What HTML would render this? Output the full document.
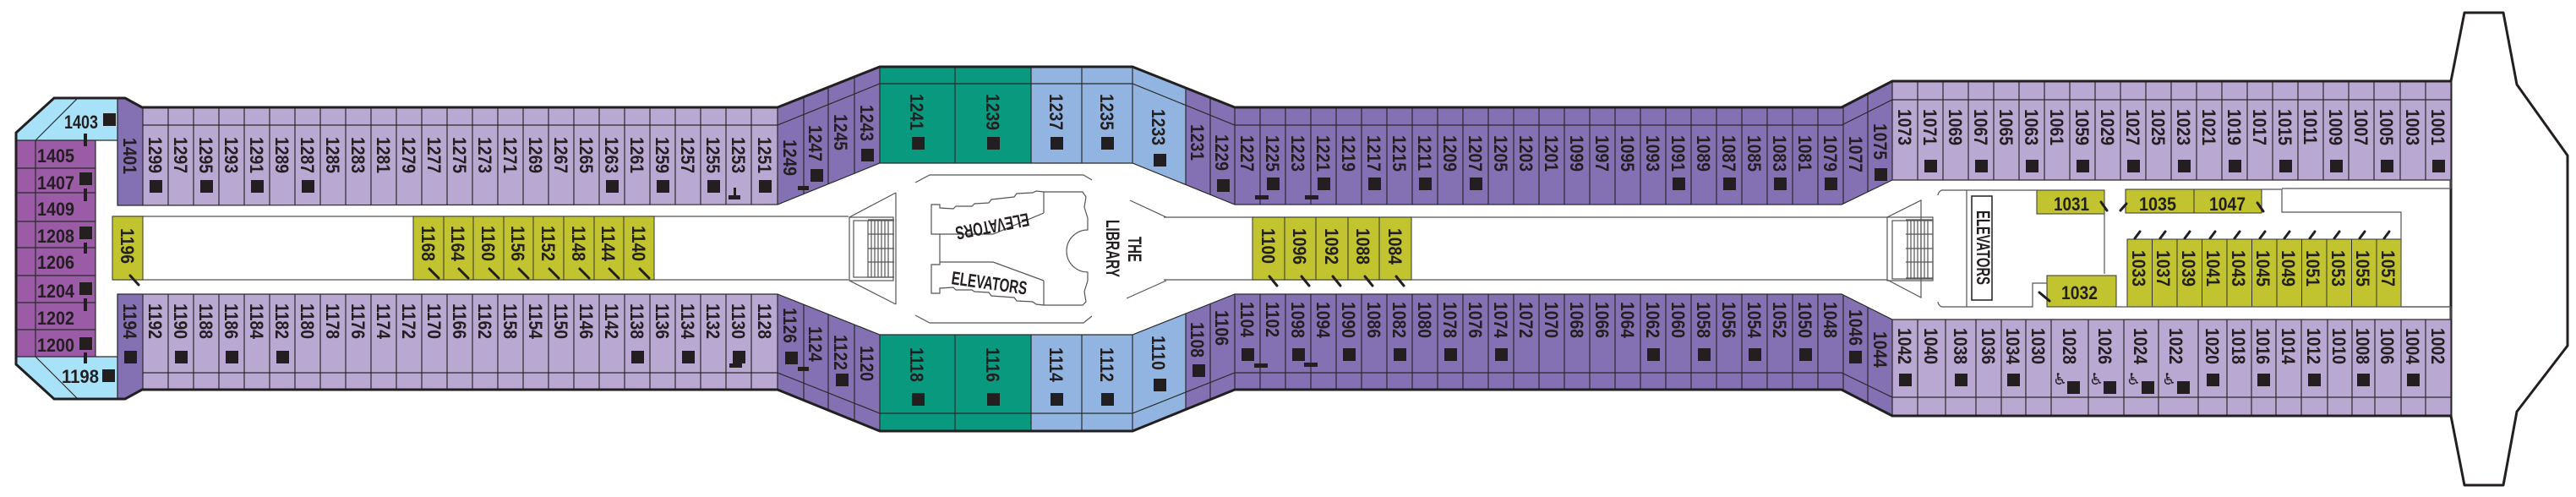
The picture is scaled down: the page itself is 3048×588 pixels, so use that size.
<!DOCTYPE html>
<html><head><meta charset="utf-8"><style>
html,body{margin:0;padding:0;background:#fff}
svg{display:block}
.v,.h{font-family:"Liberation Sans",sans-serif;font-weight:bold;font-size:22px;fill:#231f20}
.s{fill:#231f20}
.d{stroke:#2a2a2a;stroke-width:1.2;fill:none}
.g{stroke:#555;stroke-width:1.2;fill:none}
.k{stroke:#231f20;stroke-width:3;fill:none;stroke-linecap:round}
.sl{stroke:#231f20;stroke-width:3;stroke-linecap:round}
</style></head><body>
<svg width="3048" height="588" viewBox="0 0 3048 588" xmlns="http://www.w3.org/2000/svg">
<defs>
<clipPath id="cu"><polygon points="139,116 148,116 168,127 920,127 1041,79 1340,79 1461,127 2179,127 2239,96 2900,96 2900,213 2239,213 2179,242 1461,242 1340,193 1041,193 920,242 139,243"/></clipPath>
<clipPath id="cl"><polygon points="139,348 920,348 1041,396 1340,396 1461,348 2179,348 2239,378 2900,378 2900,492 2239,492 2179,461 1461,461 1340,510 1041,510 920,461 168,461 148,472 139,472"/></clipPath>
</defs>

<!-- bow -->
<polygon points="2900,96 2916,15 2962,15 2978,100 3038,184 3038,409 2978,487 2962,574 2916,574 2900,492" fill="#fff" stroke="#231f20" stroke-width="3" stroke-linejoin="round"/>

<!-- aft block -->
<polygon points="19,157 64,116 139,116 139,166 19,166" fill="#a8e2f8"/>
<polygon points="19,422 139,422 139,472 64,472 19,431" fill="#a8e2f8"/>
<rect x="19" y="166" width="94" height="256" fill="#9c5ba6"/>
<path class="d" d="M42,166 L92,116 M42,422 L92,472 M19,166 H139 M19,422 H139 M42,166 V422 M113,166 V422 M19,199 H113 M19,228 H113 M19,262 H113 M19,293 H113 M19,326 H113 M19,358 H113 M19,390 H113"/>

<!-- upper band -->
<g clip-path="url(#cu)">
<rect x="130" y="60" width="2800" height="200" fill="#b9a8d1"/>
<rect x="139" y="60" width="30" height="200" fill="#8471b3"/>
<rect x="920" y="60" width="121" height="200" fill="#8471b3"/>
<rect x="1041" y="60" width="179" height="200" fill="#08997f"/>
<rect x="1220" y="60" width="183" height="200" fill="#92b4e0"/>
<rect x="1403" y="60" width="836" height="200" fill="#8471b3"/>
<path class="d" d="M139,60V260M169,60V260M199,60V260M229,60V260M259,60V260M289,60V260M319,60V260M349,60V260M379,60V260M409,60V260M439,60V260M469,60V260M499,60V260M529,60V260M559,60V260M589,60V260M619,60V260M649,60V260M679,60V260M709,60V260M739,60V260M769,60V260M799,60V260M829,60V260M859,60V260M889,60V260M920,60V260M951,60V260M980,60V260M1011,60V260M1041,60V260M1130,60V260M1220,60V260M1280,60V260M1340,60V260M1403,60V260M1432,60V260M1461,60V260M1491,60V260M1521,60V260M1551,60V260M1581,60V260M1611,60V260M1641,60V260M1671,60V260M1701,60V260M1731,60V260M1761,60V260M1791,60V260M1821,60V260M1851,60V260M1881,60V260M1911,60V260M1941,60V260M1971,60V260M2001,60V260M2031,60V260M2061,60V260M2091,60V260M2121,60V260M2151,60V260M2181,60V260M2210,60V260M2239,60V260M2269,60V260M2299,60V260M2329,60V260M2359,60V260M2389,60V260M2419,60V260M2449,60V260M2479,60V260M2509,60V260M2539,60V260M2569,60V260M2599,60V260M2629,60V260M2659,60V260M2689,60V260M2719,60V260M2749,60V260M2779,60V260M2809,60V260M2840,60V260M2870,60V260"/>
<polyline class="d" points="169,148 920,148 1041,99 1340,99 1461,148 2179,148 2239,118 2900,118"/>
</g>
<polygon points="139,116 148,116 168,127 920,127 1041,79 1340,79 1461,127 2179,127 2239,96 2900,96 2900,213 2239,213 2179,242 1461,242 1340,193 1041,193 920,242 139,243" class="d"/>

<!-- lower band -->
<g clip-path="url(#cl)">
<rect x="130" y="330" width="2800" height="200" fill="#b9a8d1"/>
<rect x="139" y="330" width="30" height="200" fill="#8471b3"/>
<rect x="920" y="330" width="121" height="200" fill="#8471b3"/>
<rect x="1041" y="330" width="179" height="200" fill="#08997f"/>
<rect x="1220" y="330" width="183" height="200" fill="#92b4e0"/>
<rect x="1403" y="330" width="836" height="200" fill="#8471b3"/>
<path class="d" d="M139,330V530M169,330V530M199,330V530M229,330V530M259,330V530M289,330V530M319,330V530M349,330V530M379,330V530M409,330V530M439,330V530M469,330V530M499,330V530M529,330V530M559,330V530M589,330V530M619,330V530M649,330V530M679,330V530M709,330V530M739,330V530M769,330V530M799,330V530M829,330V530M859,330V530M889,330V530M920,330V530M951,330V530M980,330V530M1011,330V530M1041,330V530M1130,330V530M1220,330V530M1280,330V530M1340,330V530M1403,330V530M1432,330V530M1461,330V530M1491,330V530M1521,330V530M1551,330V530M1581,330V530M1611,330V530M1641,330V530M1671,330V530M1701,330V530M1731,330V530M1761,330V530M1791,330V530M1821,330V530M1851,330V530M1881,330V530M1911,330V530M1941,330V530M1971,330V530M2001,330V530M2031,330V530M2061,330V530M2091,330V530M2121,330V530M2151,330V530M2181,330V530M2210,330V530M2239,330V530M2269,330V530M2302,330V530M2338,330V530M2368,330V530M2397,330V530M2427,330V530M2471,330V530M2513,330V530M2554,330V530M2601,330V530M2635,330V530M2664,330V530M2693,330V530M2723,330V530M2754,330V530M2783,330V530M2810,330V530M2841,330V530M2870,330V530"/>
<polyline class="d" points="169,441 920,441 1041,489 1340,489 1461,441 2179,441 2239,470 2900,470"/>
</g>
<polygon points="139,348 920,348 1041,396 1340,396 1461,348 2179,348 2239,378 2900,378 2900,492 2239,492 2179,461 1461,461 1340,510 1041,510 920,461 168,461 148,472 139,472" class="d"/>

<!-- outer hull thick lines -->
<polyline class="k" points="19,431 19,157 64,116 148,116 168,127 920,127 1041,79 1340,79 1461,127 2179,127 2239,96 2900,96"/>
<polyline class="k" points="19,431 64,472 148,472 168,461 920,461 1041,510 1340,510 1461,461 2179,461 2239,492 2900,492"/>

<!-- corridor -->
<path class="g" d="M133,256 H1004 M133,331 H1004 M1377,257 H2233 M1377,331 H2233 M2900,213 V223 M2700,223 H2900 M2841,363 H2900 M2900,363 V378"/>
<rect x="133" y="256" width="36" height="75" fill="#c1c42f" stroke="#333" stroke-width="1"/>
<g fill="#c1c42f" stroke="#333" stroke-width="1">
<rect x="489" y="256" width="36" height="75"/><rect x="525" y="256" width="35" height="75"/><rect x="560" y="256" width="36" height="75"/><rect x="596" y="256" width="35" height="75"/><rect x="631" y="256" width="36" height="75"/><rect x="667" y="256" width="36" height="75"/><rect x="703" y="256" width="35" height="75"/><rect x="738" y="256" width="36" height="75"/>
<rect x="1482" y="257" width="38" height="74"/><rect x="1520" y="257" width="37" height="74"/><rect x="1557" y="257" width="38" height="74"/><rect x="1595" y="257" width="37" height="74"/><rect x="1632" y="257" width="38" height="74"/>
<rect x="2410" y="225" width="80" height="28"/><rect x="2515" y="224" width="81" height="28"/><rect x="2596" y="224" width="80" height="28"/>
<rect x="2422" y="326" width="82" height="37"/>
<rect x="2517" y="283" width="29.5" height="80"/><rect x="2546.5" y="283" width="29.5" height="80"/><rect x="2576" y="283" width="29.5" height="80"/><rect x="2605.5" y="283" width="29.5" height="80"/><rect x="2635" y="283" width="29.5" height="80"/><rect x="2664.5" y="283" width="29.5" height="80"/><rect x="2694" y="283" width="29.5" height="80"/><rect x="2723.5" y="283" width="29.5" height="80"/><rect x="2753" y="283" width="29.5" height="80"/><rect x="2782.5" y="283" width="29.5" height="80"/><rect x="2812" y="283" width="29" height="80"/>
</g>

<!-- middle lobby -->
<path class="g" d="M1083,216 L1100,207 H1282 L1292,213 M1083,373 L1100,382 H1282 L1292,374 M1060,228 L1005,257 M1005,332 L1060,360 M1060,228 V360 M1337,237 L1380,257 M1380,332 L1333,353"/>
<rect x="1005" y="257" width="52" height="75" class="g"/>
<rect x="1010" y="261" width="47" height="67" class="g"/>
<path class="g" d="M1027,261V328M1031,261V328M1035,261V328M1039,261V328M1043,261V328M1047,261V328M1051,261V328M1027,260H1058M1027,277H1058M1027,294H1058M1027,310H1058M1027,328H1058"/>
<path class="g" d="M1102,242 L1112,242 L1112,246 L1128,247 L1131,244 L1150,244 L1153,241 L1170,240 L1173,236 L1200,233 L1203,229 L1222,228 L1226,226 L1235,227 L1281,227 L1285,233 L1283,245 L1287,258 L1287,272 A25,25 0 0 0 1287,322 L1287,332 L1283,345 L1285,357 L1281,361 L1235,361 L1226,360 L1222,357 L1203,356 L1200,352 L1173,350 L1170,346 L1153,345 L1150,343 L1131,343 L1128,340 L1112,341 L1112,347 L1102,347 L1102,313 L1112,313 L1112,277 L1102,277 Z M1112,277 H1175 L1235,252 M1112,310 H1175 L1235,332 M1235,227 V252 M1235,332 V361"/>
<text class="h" font-size="19" textLength="88" lengthAdjust="spacingAndGlyphs" transform="translate(1216,252) rotate(169)">ELEVATORS</text>
<text class="h" font-size="19" textLength="90" lengthAdjust="spacingAndGlyphs" transform="translate(1125,336) rotate(8)">ELEVATORS</text>
<text class="h" font-size="17" textLength="30" lengthAdjust="spacingAndGlyphs" transform="translate(1335,280) rotate(90)">THE</text>
<text class="h" font-size="17" textLength="68" lengthAdjust="spacingAndGlyphs" transform="translate(1309,260) rotate(90)">LIBRARY</text>

<!-- forward lobby -->
<path class="g" d="M2233,257 L2273,237 V352 L2233,331 M2297,225 H2490 M2297,363 H2405 V335 H2422 M2327,225 V363 M2490,225 V324 M2676,224 H2700 V251 H2841 V363 M2504,363 H2900 M2297,225 Q2293,228 2293,231 M2297,363 Q2293,360 2293,357"/>
<rect x="2233" y="257" width="54" height="75" class="g"/>
<rect x="2239" y="261" width="48" height="69" class="g"/>
<path class="g" d="M2257,261V330M2261,261V330M2265,261V330M2269,261V330M2273,261V330M2277,261V330M2281,261V330M2255,260H2287M2255,277H2287M2255,294H2287M2255,310H2287M2255,329H2287"/>
<rect x="2333" y="232" width="24" height="123" fill="#fff" stroke="#231f20" stroke-width="1.5"/>
<text class="h" font-size="17" textLength="88" lengthAdjust="spacingAndGlyphs" transform="translate(2339,249) rotate(90)">ELEVATORS</text>

<!-- aft horizontal labels -->
<g class="h">
<text x="76" y="152" textLength="40" lengthAdjust="spacingAndGlyphs">1403</text>
<text x="44" y="192" textLength="44" lengthAdjust="spacingAndGlyphs">1405</text>
<text x="44" y="224" textLength="44" lengthAdjust="spacingAndGlyphs">1407</text>
<text x="44" y="255" textLength="44" lengthAdjust="spacingAndGlyphs">1409</text>
<text x="44" y="287" textLength="44" lengthAdjust="spacingAndGlyphs">1208</text>
<text x="44" y="318" textLength="44" lengthAdjust="spacingAndGlyphs">1206</text>
<text x="44" y="352" textLength="44" lengthAdjust="spacingAndGlyphs">1204</text>
<text x="44" y="384" textLength="44" lengthAdjust="spacingAndGlyphs">1202</text>
<text x="44" y="416" textLength="44" lengthAdjust="spacingAndGlyphs">1200</text>
<text x="73" y="453" textLength="44" lengthAdjust="spacingAndGlyphs">1198</text>
<text x="2430" y="249" textLength="42" lengthAdjust="spacingAndGlyphs">1031</text>
<text x="2531" y="249" textLength="44" lengthAdjust="spacingAndGlyphs">1035</text>
<text x="2614" y="249" textLength="43" lengthAdjust="spacingAndGlyphs">1047</text>
<text x="2439" y="354" textLength="43" lengthAdjust="spacingAndGlyphs">1032</text>
</g>
<g class="s">
<rect x="122" y="134" width="15" height="15"/><rect x="94" y="204" width="15" height="15"/><rect x="94" y="268" width="15" height="15"/><rect x="94" y="334" width="15" height="15"/><rect x="94" y="399" width="15" height="15"/><rect x="121" y="437" width="15" height="15"/>
<rect x="99" y="158" width="4" height="15"/><rect x="99" y="223" width="4" height="15"/><rect x="99" y="287" width="4" height="13"/><rect x="99" y="353" width="4" height="15"/><rect x="99" y="417" width="4" height="13"/>
</g>

<!-- vertical labels -->
<g class="v">
<!-- upper aft -->
<text transform="translate(146,163) rotate(90) scale(.88,1)">1401</text>
<text transform="translate(176,162) rotate(90) scale(.88,1)">1299</text>
<text transform="translate(206,162) rotate(90) scale(.88,1)">1297</text>
<text transform="translate(236,162) rotate(90) scale(.88,1)">1295</text>
<text transform="translate(266,162) rotate(90) scale(.88,1)">1293</text>
<text transform="translate(296,162) rotate(90) scale(.88,1)">1291</text>
<text transform="translate(326,162) rotate(90) scale(.88,1)">1289</text>
<text transform="translate(356,162) rotate(90) scale(.88,1)">1287</text>
<text transform="translate(386,162) rotate(90) scale(.88,1)">1285</text>
<text transform="translate(416,162) rotate(90) scale(.88,1)">1283</text>
<text transform="translate(446,162) rotate(90) scale(.88,1)">1281</text>
<text transform="translate(476,162) rotate(90) scale(.88,1)">1279</text>
<text transform="translate(506,162) rotate(90) scale(.88,1)">1277</text>
<text transform="translate(536,162) rotate(90) scale(.88,1)">1275</text>
<text transform="translate(566,162) rotate(90) scale(.88,1)">1273</text>
<text transform="translate(596,162) rotate(90) scale(.88,1)">1271</text>
<text transform="translate(626,162) rotate(90) scale(.88,1)">1269</text>
<text transform="translate(656,162) rotate(90) scale(.88,1)">1267</text>
<text transform="translate(686,162) rotate(90) scale(.88,1)">1265</text>
<text transform="translate(716,162) rotate(90) scale(.88,1)">1263</text>
<text transform="translate(746,162) rotate(90) scale(.88,1)">1261</text>
<text transform="translate(776,162) rotate(90) scale(.88,1)">1259</text>
<text transform="translate(806,162) rotate(90) scale(.88,1)">1257</text>
<text transform="translate(836,162) rotate(90) scale(.88,1)">1255</text>
<text transform="translate(866,162) rotate(90) scale(.88,1)">1253</text>
<text transform="translate(897,162) rotate(90) scale(.88,1)">1251</text>
<!-- lower aft -->
<text transform="translate(146,359) rotate(90) scale(.88,1)">1194</text>
<text transform="translate(176,359) rotate(90) scale(.88,1)">1192</text>
<text transform="translate(206,359) rotate(90) scale(.88,1)">1190</text>
<text transform="translate(236,359) rotate(90) scale(.88,1)">1188</text>
<text transform="translate(266,359) rotate(90) scale(.88,1)">1186</text>
<text transform="translate(296,359) rotate(90) scale(.88,1)">1184</text>
<text transform="translate(326,359) rotate(90) scale(.88,1)">1182</text>
<text transform="translate(356,359) rotate(90) scale(.88,1)">1180</text>
<text transform="translate(386,359) rotate(90) scale(.88,1)">1178</text>
<text transform="translate(416,359) rotate(90) scale(.88,1)">1176</text>
<text transform="translate(446,359) rotate(90) scale(.88,1)">1174</text>
<text transform="translate(476,359) rotate(90) scale(.88,1)">1172</text>
<text transform="translate(506,359) rotate(90) scale(.88,1)">1170</text>
<text transform="translate(536,359) rotate(90) scale(.88,1)">1166</text>
<text transform="translate(566,359) rotate(90) scale(.88,1)">1162</text>
<text transform="translate(596,359) rotate(90) scale(.88,1)">1158</text>
<text transform="translate(626,359) rotate(90) scale(.88,1)">1154</text>
<text transform="translate(656,359) rotate(90) scale(.88,1)">1150</text>
<text transform="translate(686,359) rotate(90) scale(.88,1)">1146</text>
<text transform="translate(716,359) rotate(90) scale(.88,1)">1142</text>
<text transform="translate(746,359) rotate(90) scale(.88,1)">1138</text>
<text transform="translate(776,359) rotate(90) scale(.88,1)">1136</text>
<text transform="translate(806,359) rotate(90) scale(.88,1)">1134</text>
<text transform="translate(836,359) rotate(90) scale(.88,1)">1132</text>
<text transform="translate(866,359) rotate(90) scale(.88,1)">1130</text>
<text transform="translate(897,359) rotate(90) scale(.88,1)">1128</text>
<!-- middle upper -->
<text transform="translate(927,165) rotate(90) scale(.88,1)">1249</text>
<text transform="translate(957,148) rotate(90) scale(.88,1)">1247</text>
<text transform="translate(987,135) rotate(90) scale(.88,1)">1245</text>
<text transform="translate(1018,124) rotate(90) scale(.88,1)">1243</text>
<text transform="translate(1077,111) rotate(90) scale(.88,1)">1241</text>
<text transform="translate(1167,111) rotate(90) scale(.88,1)">1239</text>
<text transform="translate(1242,111) rotate(90) scale(.88,1)">1237</text>
<text transform="translate(1302,111) rotate(90) scale(.88,1)">1235</text>
<text transform="translate(1363,129) rotate(90) scale(.88,1)">1233</text>
<text transform="translate(1409,147) rotate(90) scale(.88,1)">1231</text>
<text transform="translate(1438,159) rotate(90) scale(.88,1)">1229</text>
<!-- middle lower -->
<text transform="translate(927,364) rotate(90) scale(.88,1)">1126</text>
<text transform="translate(957,386) rotate(90) scale(.88,1)">1124</text>
<text transform="translate(987,396) rotate(90) scale(.88,1)">1122</text>
<text transform="translate(1018,409) rotate(90) scale(.88,1)">1120</text>
<text transform="translate(1077,411) rotate(90) scale(.88,1)">1118</text>
<text transform="translate(1167,411) rotate(90) scale(.88,1)">1116</text>
<text transform="translate(1242,411) rotate(90) scale(.88,1)">1114</text>
<text transform="translate(1302,411) rotate(90) scale(.88,1)">1112</text>
<text transform="translate(1363,397) rotate(90) scale(.88,1)">1110</text>
<text transform="translate(1409,381) rotate(90) scale(.88,1)">1108</text>
<text transform="translate(1438,367) rotate(90) scale(.88,1)">1106</text>
<!-- upper dark -->
<text transform="translate(1468,160) rotate(90) scale(.88,1)">1227</text>
<text transform="translate(1498,160) rotate(90) scale(.88,1)">1225</text>
<text transform="translate(1528,160) rotate(90) scale(.88,1)">1223</text>
<text transform="translate(1558,160) rotate(90) scale(.88,1)">1221</text>
<text transform="translate(1588,160) rotate(90) scale(.88,1)">1219</text>
<text transform="translate(1618,160) rotate(90) scale(.88,1)">1217</text>
<text transform="translate(1648,160) rotate(90) scale(.88,1)">1215</text>
<text transform="translate(1678,160) rotate(90) scale(.88,1)">1211</text>
<text transform="translate(1708,160) rotate(90) scale(.88,1)">1209</text>
<text transform="translate(1738,160) rotate(90) scale(.88,1)">1207</text>
<text transform="translate(1768,160) rotate(90) scale(.88,1)">1205</text>
<text transform="translate(1798,160) rotate(90) scale(.88,1)">1203</text>
<text transform="translate(1828,160) rotate(90) scale(.88,1)">1201</text>
<text transform="translate(1858,160) rotate(90) scale(.88,1)">1099</text>
<text transform="translate(1888,160) rotate(90) scale(.88,1)">1097</text>
<text transform="translate(1918,160) rotate(90) scale(.88,1)">1095</text>
<text transform="translate(1948,160) rotate(90) scale(.88,1)">1093</text>
<text transform="translate(1978,160) rotate(90) scale(.88,1)">1091</text>
<text transform="translate(2008,160) rotate(90) scale(.88,1)">1089</text>
<text transform="translate(2038,160) rotate(90) scale(.88,1)">1087</text>
<text transform="translate(2068,160) rotate(90) scale(.88,1)">1085</text>
<text transform="translate(2098,160) rotate(90) scale(.88,1)">1083</text>
<text transform="translate(2128,160) rotate(90) scale(.88,1)">1081</text>
<text transform="translate(2158,160) rotate(90) scale(.88,1)">1079</text>
<text transform="translate(2188,161) rotate(90) scale(.88,1)">1077</text>
<text transform="translate(2217,146) rotate(90) scale(.88,1)">1075</text>
<!-- lower dark -->
<text transform="translate(1468,357) rotate(90) scale(.88,1)">1104</text>
<text transform="translate(1498,357) rotate(90) scale(.88,1)">1102</text>
<text transform="translate(1528,357) rotate(90) scale(.88,1)">1098</text>
<text transform="translate(1558,357) rotate(90) scale(.88,1)">1094</text>
<text transform="translate(1588,357) rotate(90) scale(.88,1)">1090</text>
<text transform="translate(1618,357) rotate(90) scale(.88,1)">1086</text>
<text transform="translate(1648,357) rotate(90) scale(.88,1)">1082</text>
<text transform="translate(1678,357) rotate(90) scale(.88,1)">1080</text>
<text transform="translate(1708,357) rotate(90) scale(.88,1)">1078</text>
<text transform="translate(1738,357) rotate(90) scale(.88,1)">1076</text>
<text transform="translate(1768,357) rotate(90) scale(.88,1)">1074</text>
<text transform="translate(1798,357) rotate(90) scale(.88,1)">1072</text>
<text transform="translate(1828,357) rotate(90) scale(.88,1)">1070</text>
<text transform="translate(1858,357) rotate(90) scale(.88,1)">1068</text>
<text transform="translate(1888,357) rotate(90) scale(.88,1)">1066</text>
<text transform="translate(1918,357) rotate(90) scale(.88,1)">1064</text>
<text transform="translate(1948,357) rotate(90) scale(.88,1)">1062</text>
<text transform="translate(1978,357) rotate(90) scale(.88,1)">1060</text>
<text transform="translate(2008,357) rotate(90) scale(.88,1)">1058</text>
<text transform="translate(2038,357) rotate(90) scale(.88,1)">1056</text>
<text transform="translate(2068,357) rotate(90) scale(.88,1)">1054</text>
<text transform="translate(2098,357) rotate(90) scale(.88,1)">1052</text>
<text transform="translate(2128,357) rotate(90) scale(.88,1)">1050</text>
<text transform="translate(2158,357) rotate(90) scale(.88,1)">1048</text>
<text transform="translate(2188,366) rotate(90) scale(.88,1)">1046</text>
<text transform="translate(2217,392) rotate(90) scale(.88,1)">1044</text>
<!-- forward upper -->
<text transform="translate(2246,129) rotate(90) scale(.88,1)">1073</text>
<text transform="translate(2276,129) rotate(90) scale(.88,1)">1071</text>
<text transform="translate(2306,129) rotate(90) scale(.88,1)">1069</text>
<text transform="translate(2336,129) rotate(90) scale(.88,1)">1067</text>
<text transform="translate(2366,129) rotate(90) scale(.88,1)">1065</text>
<text transform="translate(2396,129) rotate(90) scale(.88,1)">1063</text>
<text transform="translate(2426,129) rotate(90) scale(.88,1)">1061</text>
<text transform="translate(2456,129) rotate(90) scale(.88,1)">1059</text>
<text transform="translate(2486,129) rotate(90) scale(.88,1)">1029</text>
<text transform="translate(2516,129) rotate(90) scale(.88,1)">1027</text>
<text transform="translate(2546,129) rotate(90) scale(.88,1)">1025</text>
<text transform="translate(2576,129) rotate(90) scale(.88,1)">1023</text>
<text transform="translate(2606,129) rotate(90) scale(.88,1)">1021</text>
<text transform="translate(2636,129) rotate(90) scale(.88,1)">1019</text>
<text transform="translate(2666,129) rotate(90) scale(.88,1)">1017</text>
<text transform="translate(2696,129) rotate(90) scale(.88,1)">1015</text>
<text transform="translate(2726,129) rotate(90) scale(.88,1)">1011</text>
<text transform="translate(2756,129) rotate(90) scale(.88,1)">1009</text>
<text transform="translate(2786,129) rotate(90) scale(.88,1)">1007</text>
<text transform="translate(2816,129) rotate(90) scale(.88,1)">1005</text>
<text transform="translate(2847,129) rotate(90) scale(.88,1)">1003</text>
<text transform="translate(2877,129) rotate(90) scale(.88,1)">1001</text>
<!-- forward lower -->
<text transform="translate(2246,388) rotate(90) scale(.88,1)">1042</text>
<text transform="translate(2277,388) rotate(90) scale(.88,1)">1040</text>
<text transform="translate(2312,388) rotate(90) scale(.88,1)">1038</text>
<text transform="translate(2345,388) rotate(90) scale(.88,1)">1036</text>
<text transform="translate(2374,388) rotate(90) scale(.88,1)">1034</text>
<text transform="translate(2404,388) rotate(90) scale(.88,1)">1030</text>
<text transform="translate(2441,388) rotate(90) scale(.88,1)">1028</text>
<text transform="translate(2483,388) rotate(90) scale(.88,1)">1026</text>
<text transform="translate(2525,388) rotate(90) scale(.88,1)">1024</text>
<text transform="translate(2567,388) rotate(90) scale(.88,1)">1022</text>
<text transform="translate(2610,388) rotate(90) scale(.88,1)">1020</text>
<text transform="translate(2641,388) rotate(90) scale(.88,1)">1018</text>
<text transform="translate(2670,388) rotate(90) scale(.88,1)">1016</text>
<text transform="translate(2700,388) rotate(90) scale(.88,1)">1014</text>
<text transform="translate(2730,388) rotate(90) scale(.88,1)">1012</text>
<text transform="translate(2760,388) rotate(90) scale(.88,1)">1010</text>
<text transform="translate(2788,388) rotate(90) scale(.88,1)">1008</text>
<text transform="translate(2817,388) rotate(90) scale(.88,1)">1006</text>
<text transform="translate(2847,388) rotate(90) scale(.88,1)">1004</text>
<text transform="translate(2877,388) rotate(90) scale(.88,1)">1002</text>
<!-- yellow -->
<text transform="translate(143,270) rotate(90) scale(.88,1)">1196</text>
<text transform="translate(499,267) rotate(90) scale(.88,1)">1168</text>
<text transform="translate(534,267) rotate(90) scale(.88,1)">1164</text>
<text transform="translate(570,267) rotate(90) scale(.88,1)">1160</text>
<text transform="translate(605,267) rotate(90) scale(.88,1)">1156</text>
<text transform="translate(641,267) rotate(90) scale(.88,1)">1152</text>
<text transform="translate(677,267) rotate(90) scale(.88,1)">1148</text>
<text transform="translate(712,267) rotate(90) scale(.88,1)">1144</text>
<text transform="translate(748,267) rotate(90) scale(.88,1)">1140</text>
<text transform="translate(1493,270) rotate(90) scale(.88,1)">1100</text>
<text transform="translate(1530,270) rotate(90) scale(.88,1)">1096</text>
<text transform="translate(1568,270) rotate(90) scale(.88,1)">1092</text>
<text transform="translate(1605,270) rotate(90) scale(.88,1)">1088</text>
<text transform="translate(1643,270) rotate(90) scale(.88,1)">1084</text>
<text transform="translate(2523,296) rotate(90) scale(.88,1)">1033</text>
<text transform="translate(2552,296) rotate(90) scale(.88,1)">1037</text>
<text transform="translate(2582,296) rotate(90) scale(.88,1)">1039</text>
<text transform="translate(2611,296) rotate(90) scale(.88,1)">1041</text>
<text transform="translate(2641,296) rotate(90) scale(.88,1)">1043</text>
<text transform="translate(2670,296) rotate(90) scale(.88,1)">1045</text>
<text transform="translate(2700,296) rotate(90) scale(.88,1)">1049</text>
<text transform="translate(2729,296) rotate(90) scale(.88,1)">1051</text>
<text transform="translate(2759,296) rotate(90) scale(.88,1)">1053</text>
<text transform="translate(2788,296) rotate(90) scale(.88,1)">1055</text>
<text transform="translate(2818,296) rotate(90) scale(.88,1)">1057</text>
</g>

<!-- squares -->
<g class="s">
<rect x="177" y="213" width="15" height="15"/><rect x="237" y="213" width="15" height="15"/><rect x="297" y="213" width="15" height="15"/><rect x="357" y="213" width="15" height="15"/><rect x="717" y="213" width="15" height="15"/><rect x="777" y="213" width="15" height="15"/><rect x="837" y="213" width="15" height="15"/><rect x="898" y="213" width="15" height="15"/>
<rect x="147" y="415" width="15" height="15"/><rect x="207" y="415" width="15" height="15"/><rect x="267" y="415" width="15" height="15"/><rect x="327" y="415" width="15" height="15"/><rect x="747" y="415" width="15" height="15"/><rect x="807" y="415" width="15" height="15"/><rect x="867" y="415" width="15" height="15"/>
<rect x="959" y="200" width="15" height="15"/><rect x="1019" y="176" width="15" height="15"/><rect x="1079" y="162" width="15" height="15"/><rect x="1168" y="162" width="15" height="15"/><rect x="1243" y="162" width="15" height="15"/><rect x="1303" y="162" width="15" height="15"/><rect x="1365" y="182" width="15" height="15"/><rect x="1440" y="212" width="15" height="15"/>
<rect x="929" y="416" width="15" height="15"/><rect x="989" y="442" width="15" height="15"/><rect x="1079" y="465" width="15" height="15"/><rect x="1168" y="465" width="15" height="15"/><rect x="1243" y="465" width="15" height="15"/><rect x="1303" y="465" width="15" height="15"/><rect x="1365" y="448" width="15" height="15"/><rect x="1411" y="431" width="15" height="15"/>
<rect x="1499" y="210" width="15" height="15"/><rect x="1559" y="210" width="15" height="15"/><rect x="1619" y="210" width="15" height="15"/><rect x="1679" y="210" width="15" height="15"/><rect x="1739" y="210" width="15" height="15"/><rect x="1979" y="210" width="15" height="15"/><rect x="2039" y="210" width="15" height="15"/><rect x="2099" y="210" width="15" height="15"/><rect x="2159" y="210" width="15" height="15"/><rect x="2218" y="199" width="15" height="15"/>
<rect x="1469" y="412" width="15" height="15"/><rect x="1529" y="412" width="15" height="15"/><rect x="1589" y="412" width="15" height="15"/><rect x="1649" y="412" width="15" height="15"/><rect x="1709" y="412" width="15" height="15"/><rect x="1769" y="412" width="15" height="15"/><rect x="1949" y="412" width="15" height="15"/><rect x="2009" y="412" width="15" height="15"/><rect x="2069" y="412" width="15" height="15"/><rect x="2129" y="412" width="15" height="15"/><rect x="2188" y="415" width="15" height="15"/>
<rect x="2277" y="189" width="15" height="15"/><rect x="2337" y="189" width="15" height="15"/><rect x="2397" y="189" width="15" height="15"/><rect x="2457" y="189" width="15" height="15"/><rect x="2517" y="189" width="15" height="15"/><rect x="2577" y="189" width="15" height="15"/><rect x="2637" y="189" width="15" height="15"/><rect x="2697" y="189" width="15" height="15"/><rect x="2757" y="189" width="15" height="15"/><rect x="2817" y="189" width="15" height="15"/><rect x="2878" y="189" width="15" height="15"/>
<rect x="2247" y="442" width="15" height="15"/><rect x="2313" y="442" width="15" height="15"/><rect x="2375" y="442" width="15" height="15"/><rect x="2611" y="442" width="15" height="15"/><rect x="2671" y="442" width="15" height="15"/><rect x="2731" y="442" width="15" height="15"/><rect x="2789" y="442" width="15" height="15"/><rect x="2848" y="442" width="15" height="15"/>
<rect x="2446" y="451" width="15" height="15"/><rect x="2489" y="451" width="15" height="15"/><rect x="2534" y="451" width="15" height="15"/><rect x="2576" y="451" width="15" height="15"/>
<!-- door bars -->
<rect x="862" y="231" width="14" height="5"/><rect x="868" y="222" width="3" height="10"/>
<rect x="944" y="220" width="13" height="5"/>
<rect x="1485" y="231" width="16" height="5"/><rect x="1544" y="231" width="16" height="5"/>
<rect x="863" y="430" width="15" height="5"/><rect x="944" y="434" width="13" height="5"/>
<rect x="1484" y="430" width="16" height="5"/><rect x="1543" y="429" width="16" height="5"/>
</g>
<g font-family="DejaVu Sans,sans-serif" font-size="19" fill="#231f20">
<text x="2429" y="455">♿</text><text x="2472" y="455">♿</text><text x="2516" y="455">♿</text><text x="2558" y="455">♿</text>
</g>

<!-- door slashes -->
<g class="sl">
<line x1="154" y1="326" x2="164" y2="337"/>
<line x1="508" y1="318" x2="519" y2="329"/><line x1="543" y1="318" x2="554" y2="329"/><line x1="579" y1="318" x2="590" y2="329"/><line x1="614" y1="318" x2="625" y2="329"/><line x1="650" y1="318" x2="661" y2="329"/><line x1="686" y1="318" x2="697" y2="329"/><line x1="721" y1="318" x2="732" y2="329"/><line x1="757" y1="318" x2="768" y2="329"/>
<line x1="1502" y1="327" x2="1511" y2="338"/><line x1="1540" y1="327" x2="1549" y2="338"/><line x1="1577" y1="327" x2="1586" y2="338"/><line x1="1615" y1="327" x2="1624" y2="338"/><line x1="1652" y1="327" x2="1661" y2="338"/>
<line x1="2486" y1="239" x2="2493" y2="249"/><line x1="2509" y1="249" x2="2516" y2="241"/><line x1="2671" y1="240" x2="2678" y2="250"/>
<line x1="2413" y1="346" x2="2425" y2="356"/>
<line x1="2526" y1="282" x2="2532" y2="274"/><line x1="2556" y1="282" x2="2562" y2="274"/><line x1="2585" y1="282" x2="2591" y2="274"/><line x1="2615" y1="282" x2="2621" y2="274"/><line x1="2644" y1="282" x2="2650" y2="274"/><line x1="2674" y1="282" x2="2680" y2="274"/><line x1="2703" y1="282" x2="2709" y2="274"/><line x1="2733" y1="282" x2="2739" y2="274"/><line x1="2762" y1="282" x2="2768" y2="274"/><line x1="2792" y1="282" x2="2798" y2="274"/><line x1="2821" y1="282" x2="2827" y2="274"/>
</g>
</svg>
</body></html>
